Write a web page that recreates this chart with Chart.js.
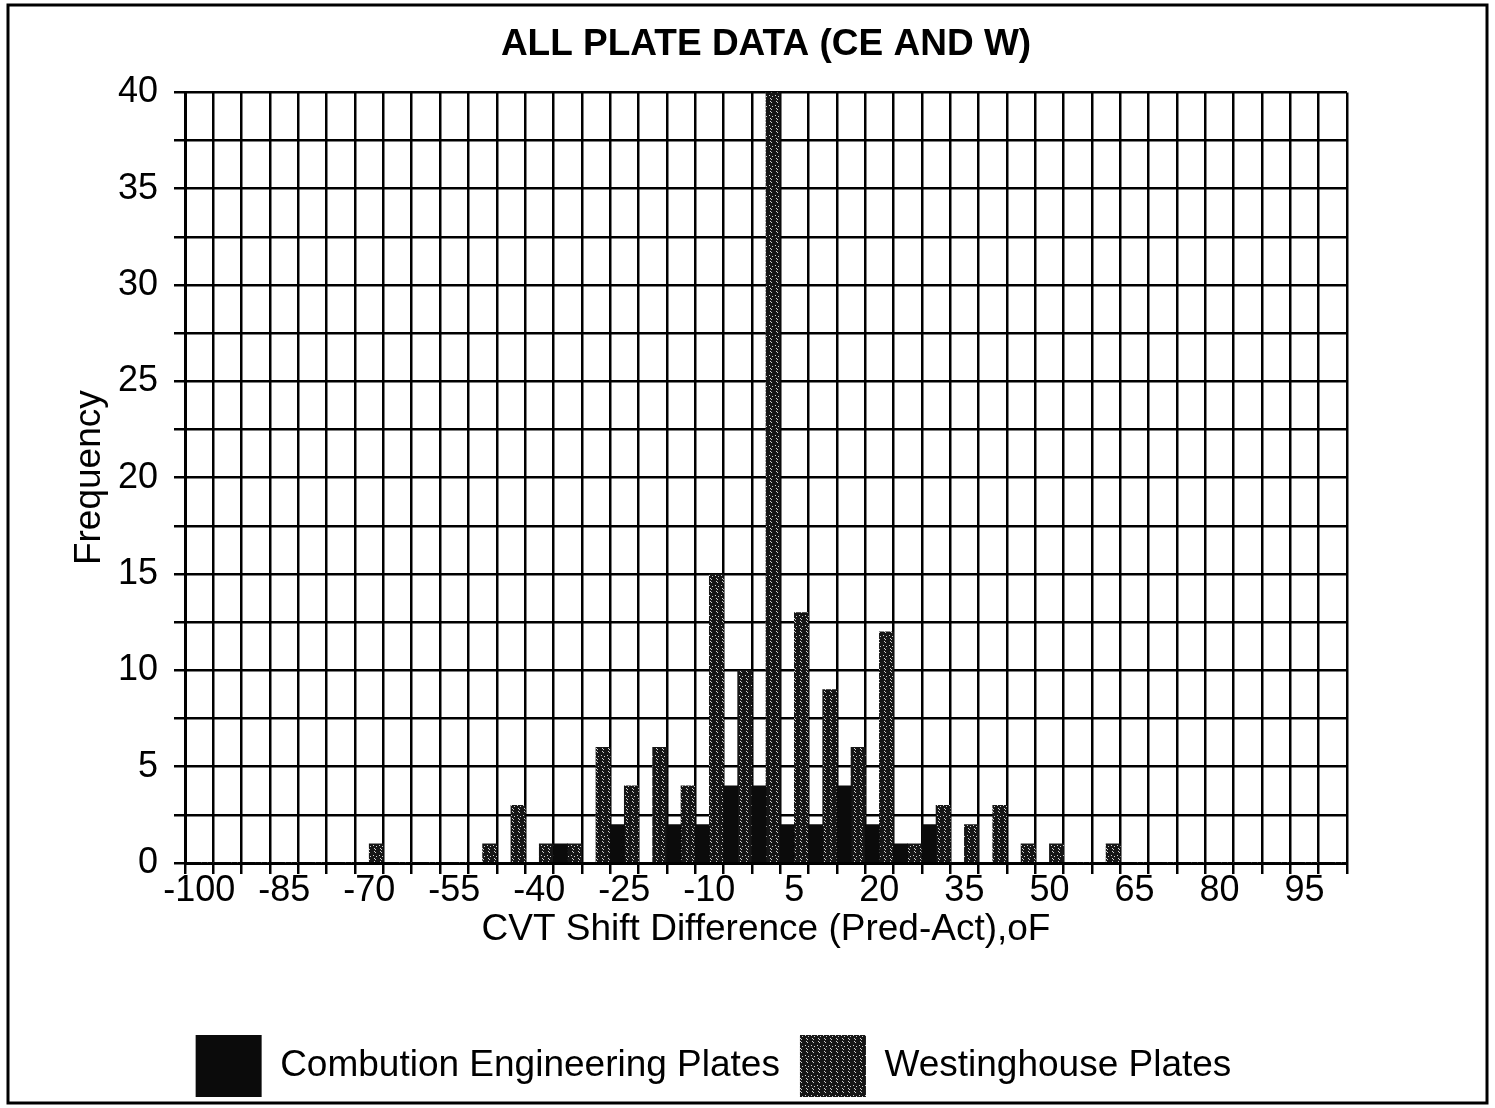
<!DOCTYPE html>
<html>
<head>
<meta charset="utf-8">
<title>All plate data (CE and W)</title>
<script src="https://cdn.jsdelivr.net/npm/chart.js"></script>
<style>
  html, body { margin: 0; padding: 0; background: #fff; overflow: hidden; }
  #wrap { width: 1495px; height: 1108px; }
</style>
</head>
<body>
<div id="wrap"><canvas id="plateChart" width="1495" height="1108"></canvas></div>
<script>
// CVT shift difference bins (Pred-Act), degrees F
const bins = [-100, -95, -90, -85, -80, -75, -70, -65, -60, -55,
              -50, -45, -40, -35, -30, -25, -20, -15, -10, -5,
                0,   5,  10,  15,  20,  25,  30,  35,  40,  45,
               50,  55,  60,  65,  70,  75,  80,  85,  90,  95,
              100];

// only every third bin gets a label
const shownTicks = [-100, -85, -70, -55, -40, -25, -10, 5, 20, 35, 50, 65, 80, 95];

// frequency per bin
const ceCounts = [0, 0, 0, 0, 0, 0, 0, 0, 0, 0,
                  0, 0, 0, 1, 0, 2, 0, 2, 2, 4,
                  4, 2, 2, 4, 2, 1, 2, 0, 0, 0,
                  0, 0, 0, 0, 0, 0, 0, 0, 0, 0,
                  0];
const wCounts  = [0, 0, 0, 0, 0, 0, 1, 0, 0, 0,
                  1, 3, 1, 1, 6, 4, 6, 4, 15, 10,
                  40, 13, 9, 6, 12, 1, 3, 2, 3, 1,
                  1, 0, 1, 0, 0, 0, 0, 0, 0, 0,
                  0];

const FONT = "'Liberation Sans', Arial, sans-serif";

// dark fill with a few light specks for the Westinghouse bars
function speckle(base, dots) {
  const c = document.createElement('canvas');
  c.width = 6; c.height = 10;
  const g = c.getContext('2d');
  g.fillStyle = base;
  g.fillRect(0, 0, 6, 10);
  g.fillStyle = '#d0d0d0';
  dots.forEach(([x, y]) => g.fillRect(x, y, 1, 1));
  return g.createPattern(c, 'repeat');
}

const ceFill = '#0b0b0b';
const wFill = speckle('#161616', [[2, 1], [3, 2], [1, 5], [4, 6], [2, 8], [3, 9]]);

const frame = {
  id: 'frame',
  afterDraw(chart) {
    const ctx = chart.ctx;
    ctx.save();
    ctx.strokeStyle = '#000';
    ctx.lineWidth = 3;
    ctx.strokeRect(8, 5, 1479, 1098);
    ctx.restore();
  }
};

const ctx = document.getElementById('plateChart').getContext('2d');
new Chart(ctx, {
  type: 'bar',
  data: {
    labels: bins.map(String),
    datasets: [
      {
        label: 'Combution Engineering Plates',
        data: ceCounts,
        backgroundColor: ceFill,
        borderWidth: 0,
        categoryPercentage: 1,
        barPercentage: 1
      },
      {
        label: 'Westinghouse Plates',
        data: wCounts,
        backgroundColor: wFill,
        borderWidth: 0,
        categoryPercentage: 1,
        barPercentage: 1
      }
    ]
  },
  options: {
    responsive: false,
    animation: false,
    layout: { padding: { left: 80, right: 148, top: 0, bottom: 1 } },
    plugins: {
      title: {
        display: true,
        text: 'ALL PLATE DATA (CE AND W)',
        color: '#000',
        fullSize: false,
        font: { family: FONT, size: 37, weight: 'bold' },
        padding: { top: 23, bottom: 25 }
      },
      legend: {
        position: 'bottom',
        labels: {
          color: '#000',
          font: { family: FONT, size: 37 },
          boxWidth: 66,
          boxHeight: 62,
          padding: 20
        }
      },
      tooltip: { enabled: false }
    },
    scales: {
      x: {
        grid: { color: '#000', lineWidth: 2.5, offset: true, tickLength: 11, tickColor: '#000' },
        border: { color: '#000', width: 3 },
        ticks: {
          color: '#000',
          font: { family: FONT, size: 36 },
          autoSkip: false,
          maxRotation: 0,
          padding: -5,
          callback: (value, index) => shownTicks.includes(bins[index]) ? String(bins[index]) : ''
        },
        title: {
          display: true,
          text: 'CVT Shift Difference (Pred-Act),oF',
          color: '#000',
          font: { family: FONT, size: 37 },
          padding: { top: 0, bottom: 63 }
        },
        afterFit: (scale) => { scale.height = 152; }
      },
      y: {
        min: 0,
        max: 40,
        grid: { color: '#000', lineWidth: 2.5, tickLength: 11, tickColor: '#000' },
        border: { color: '#000', width: 3 },
        ticks: {
          stepSize: 2.5,
          color: '#000',
          font: { family: FONT, size: 36 },
          padding: 16,
          callback: (v) => v % 5 === 0 ? v : ''
        },
        title: {
          display: true,
          text: 'Frequency',
          color: '#000',
          font: { family: FONT, size: 37 },
          padding: { top: -12, bottom: 0 }
        },
        afterFit: (scale) => { scale.width = 105; }
      }
    }
  },
  plugins: [frame]
});
</script>
</body>
</html>
